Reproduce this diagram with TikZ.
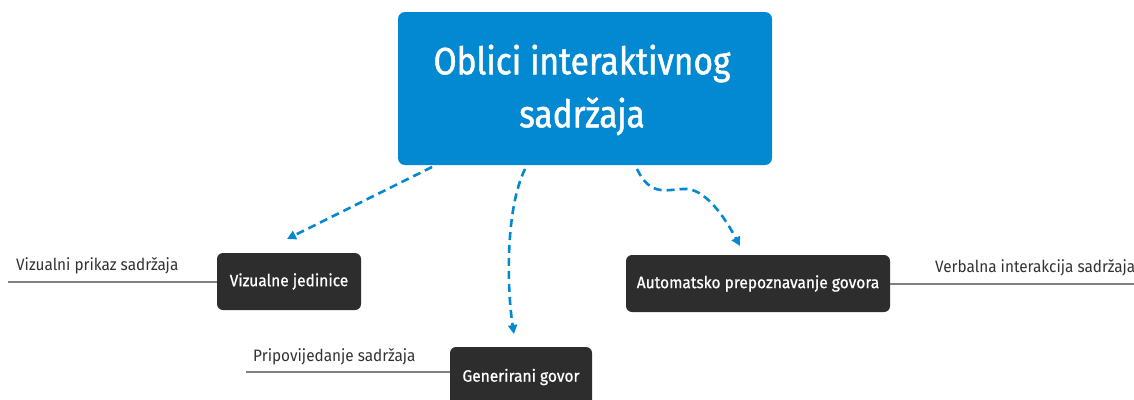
\documentclass[tikz,border=0pt]{standalone}
\usepackage{fontspec}
\setmainfont{Fira Sans}
\newfontfamily\condfont[FakeStretch=0.88,FakeBold=1.2]{Fira Sans}
\newfontfamily\topicfont[FakeStretch=0.94,FakeBold=0.8]{Fira Sans}
\newfontfamily\labelfont[FakeStretch=0.93]{Fira Sans}
\usetikzlibrary{arrows.meta,calc}
\definecolor{mainblue}{RGB}{3,136,210}
\definecolor{darkbox}{RGB}{45,45,45}
\definecolor{leafgray}{RGB}{128,128,128}
\definecolor{labeltext}{RGB}{50,50,50}
\tikzset{
  mainbox/.style={fill=mainblue, draw=none, rounded corners=7pt},
  maintextstyle/.style={text=white, align=center, inner sep=0pt,
    font=\condfont\fontsize{38}{53}\selectfont},
  topic/.style={fill=darkbox, draw=none, rounded corners=6pt, text=white,
    font=\topicfont\fontsize{16.5}{19}\selectfont},
  leafline/.style={draw=leafgray, line width=1.6pt},
  leaflabel/.style={text=labeltext, font=\labelfont\fontsize{16.5}{19}\selectfont, inner sep=0pt},
  bluearrow/.style={draw=mainblue, line width=2.6pt, dash pattern=on 8pt off 5pt,
    -{Triangle[length=9pt,width=9pt]}}
}
\begin{document}
\begin{tikzpicture}[x=1pt,y=-1pt]
\useasboundingbox (0,0) rectangle (1134,399);
\begin{scope}
\clip (0,0) rectangle (1134,399);
\node[mainbox, minimum width=374pt, minimum height=153pt] (main) at (585,88.5) {};
\node[maintextstyle] (maintext) at (582,90) {Oblici interaktivnog\\sadržaja};

\node[topic, minimum width=144pt, minimum height=57pt] (viz) at (289,281.5) {Vizualne jedinice};
\node[topic, minimum width=142pt, minimum height=60pt] (gen) at (521,377) {Generirani govor};
\node[topic, minimum width=264pt, minimum height=57pt] (auto) at (758,283.5) {Automatsko prepoznavanje govora};

\coordinate (vizend) at (8,282);
\coordinate (genend) at (246,372);
\coordinate (autoend) at (1134,284);
\draw[leafline] (viz.west |- vizend) -- (vizend);
\draw[leafline] (gen.west |- genend) -- (genend);
\draw[leafline] (auto.east |- autoend) -- (autoend);

\node[leaflabel, anchor=base west] (vizlab) at (16,270) {Vizualni prikaz sadržaja};
\node[leaflabel, anchor=base west] (genlab) at (253,361) {Pripovijedanje sadržaja};
\node[leaflabel, anchor=base west] (autolab) at (935,272) {Verbalna interakcija sadržaja};

\coordinate (s1) at (432,167);
\coordinate (e1) at (287,239);
\coordinate (s2) at (525,169);
\coordinate (e2) at (514,334);
\coordinate (s3) at (637,169);
\coordinate (m3) at (683,189);
\coordinate (e3) at (740,246);
\draw[bluearrow] (s1) -- (e1);
\draw[bluearrow] (s2) .. controls (505,210) and (507,290) .. (e2);
\draw[bluearrow] (s3) .. controls (650,196) and (665,190) .. (m3) .. controls (705,187) and (725,218) .. (e3);
\end{scope}
\end{tikzpicture}
\end{document}
